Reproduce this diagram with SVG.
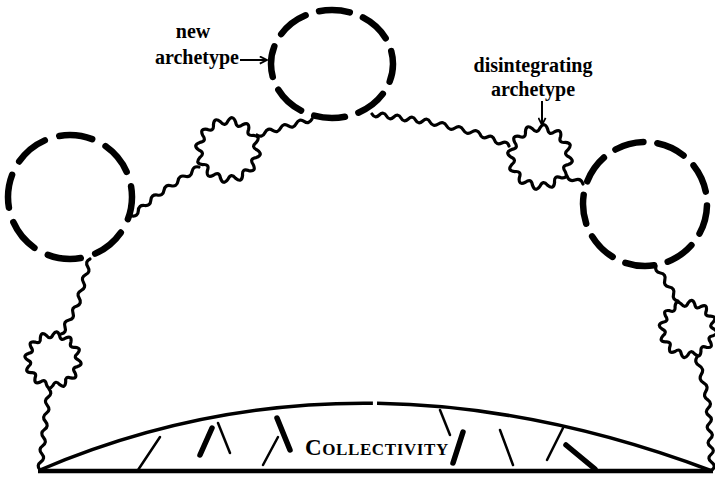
<svg xmlns="http://www.w3.org/2000/svg" width="715" height="479" viewBox="0 0 715 479">
<style>
.dash{fill:none;stroke:#000;stroke-width:6.5;stroke-linecap:round}
.wave{fill:none;stroke:#000;stroke-width:3.2;stroke-linejoin:round;stroke-linecap:round}
.lbl{font-family:"Liberation Serif",serif;font-weight:bold;font-size:20px;fill:#000}
.thin{stroke:#000;stroke-width:2.5;stroke-linecap:round}
.thick{stroke:#000;stroke-width:5.5;stroke-linecap:round}
.ptr{stroke:#000;stroke-width:2;fill:none}
</style>
<defs>
<path id="scallop" vector-effect="non-scaling-stroke" d="M27 0 Q33.21 4.37 26.08 6.99 Q19.40 8.04 23.38 13.5 Q26.58 20.39 19.09 19.09 Q12.78 16.66 13.5 23.38 Q12.82 30.95 6.99 26.08 Q2.74 20.82 0 27 Q-4.37 33.21 -6.99 26.08 Q-8.04 19.40 -13.5 23.38 Q-20.39 26.58 -19.09 19.09 Q-16.66 12.78 -23.38 13.5 Q-30.95 12.82 -26.08 6.99 Q-20.82 2.74 -27 0 Q-33.21 -4.37 -26.08 -6.99 Q-19.40 -8.04 -23.38 -13.5 Q-26.58 -20.39 -19.09 -19.09 Q-12.78 -16.66 -13.5 -23.38 Q-12.82 -30.95 -6.99 -26.08 Q-2.74 -20.82 0 -27 Q4.37 -33.21 6.99 -26.08 Q8.04 -19.40 13.5 -23.38 Q20.39 -26.58 19.09 -19.09 Q16.66 -12.78 23.38 -13.5 Q30.95 -12.82 26.08 -6.99 Q20.82 -2.74 27 0 Z"/>
<marker id="ah" viewBox="0 0 10 10" refX="9" refY="5" markerWidth="9" markerHeight="9" markerUnits="userSpaceOnUse" orient="auto">
<path d="M1 1 L9 5 L1 9" fill="none" stroke="#000" stroke-width="2"/>
</marker>
</defs>
<rect width="715" height="479" fill="#fff"/>

<g id="archetype-left"><circle class="dash" cx="70" cy="197" r="62" pathLength="360" stroke-dasharray="31 14" stroke-dashoffset="10"/></g>
<g id="archetype-new"><ellipse class="dash" cx="332" cy="64" rx="61" ry="54" pathLength="360" stroke-dasharray="31 14" stroke-dashoffset="13"/></g>
<g id="archetype-right"><circle class="dash" cx="645" cy="204" r="62" pathLength="360" stroke-dasharray="27 13" stroke-dashoffset="-1.5"/></g>

<g id="wavy-bottom-left"><use href="#scallop" class="wave" transform="translate(53 360) scale(0.94)"/></g>
<g id="wavy-top-left"><use href="#scallop" class="wave" transform="translate(228 150) scale(1.08)"/></g>
<g id="wavy-disintegrating"><use href="#scallop" class="wave" transform="translate(540 157) scale(1.08)"/></g>
<g id="wavy-right"><use href="#scallop" class="wave" transform="translate(688 329) scale(0.96)"/></g>

<g id="collectivity">
<line x1="38" y1="471" x2="713" y2="471" stroke="#000" stroke-width="4.5"/>
<path d="M40 470 Q354 336 712 471" fill="none" stroke="#000" stroke-width="3.5" pathLength="1000" stroke-dasharray="496 6 1000"/>
<line class="thin" x1="160" y1="437" x2="138" y2="470"/>
<line class="thick" x1="212" y1="428" x2="200" y2="455"/>
<line class="thin" x1="218" y1="423" x2="230" y2="453"/>
<line class="thick" x1="277" y1="418" x2="290" y2="450"/>
<line class="thin" x1="278" y1="437" x2="263" y2="465"/>
<line class="thin" x1="440" y1="410" x2="450" y2="435"/>
<line class="thick" x1="463" y1="432" x2="453" y2="463"/>
<line class="thin" x1="500" y1="430" x2="513" y2="465"/>
<line class="thin" x1="563" y1="428" x2="547" y2="460"/>
<line class="thick" x1="566" y1="445" x2="595" y2="469"/>
<text class="lbl" x="305" y="455" letter-spacing="0.6"><tspan font-size="23">C</tspan><tspan font-size="17">OLLECTIVITY</tspan></text>
</g>

<g id="label-new">
<text class="lbl" x="193" y="38" text-anchor="middle">new</text>
<text class="lbl" x="239" y="64" text-anchor="end">archetype</text>
</g>
<g id="label-disintegrating">
<text class="lbl" x="533" y="72" text-anchor="middle">disintegrating</text>
<text class="lbl" x="533" y="96" text-anchor="middle">archetype</text>
</g>

<g id="connectors">
<g class="wave">
<path d="M49 389 Q53 393.6 48.1 397.1 T47.2 405.2 T46.3 413.3 T45.4 421.4 T44.5 429.5 T43.6 437.6 T42.7 445.7 T41.8 453.8 T40.9 461.9 T40 470"/>
<path d="M61 334 Q66.9 332.7 65 327 T69 320 T73 313 T77 306 Q82.4 303.3 79.2 298.2 T81.3 290.3 T83.5 282.5 T85.7 274.7 T87.8 266.8 T90 259"/>
<path d="M132 216 Q138 216.8 138.3 210.8 T144.5 205.5 T150.8 200.3 T157 195 Q163 196.4 164 190.3 T171 185.7 T178 181 T185 176.3 T192 171.7 T199 167"/>
<path d="M257 135 Q262.2 138.2 264.9 132.7 T272.7 130.4 T280.6 128.1 T288.4 125.9 T296.3 123.6 T304.1 121.3 T312 119"/>
<path d="M372 114 Q375 119 379.3 115 T386.5 116 T393.8 117 T401 118 T408.3 119 T415.5 120 T422.8 121 T430 122 Q433.1 127.4 438.3 124 T446.7 126 T455 128 T463.3 130 T471.7 132 T480 134 Q481.9 139.7 487.3 137 T494.5 140 T501.8 143 T509 146"/>
<path d="M567 176 Q569 182 575 180 T583 184"/>
<path d="M656 266 Q654.4 271.9 660.4 273 T664.8 280 T669.2 287 T673.6 294 T678 301"/>
<path d="M697 357 Q693.7 362.4 699.2 365.6 T701.4 374.2 T703.6 382.8 T705.8 391.4 T708 400 Q712.7 403.6 708.4 407.8 T708.9 415.6 T709.3 423.3 T709.8 431.1 T710.2 438.9 T710.7 446.7 T711.1 454.4 T711.6 462.2 T712 470"/>
</g>
<line class="ptr" x1="240" y1="60" x2="267" y2="60" marker-end="url(#ah)"/>
<line class="ptr" x1="542" y1="101" x2="542" y2="125" marker-end="url(#ah)"/>
</g>
</svg>
